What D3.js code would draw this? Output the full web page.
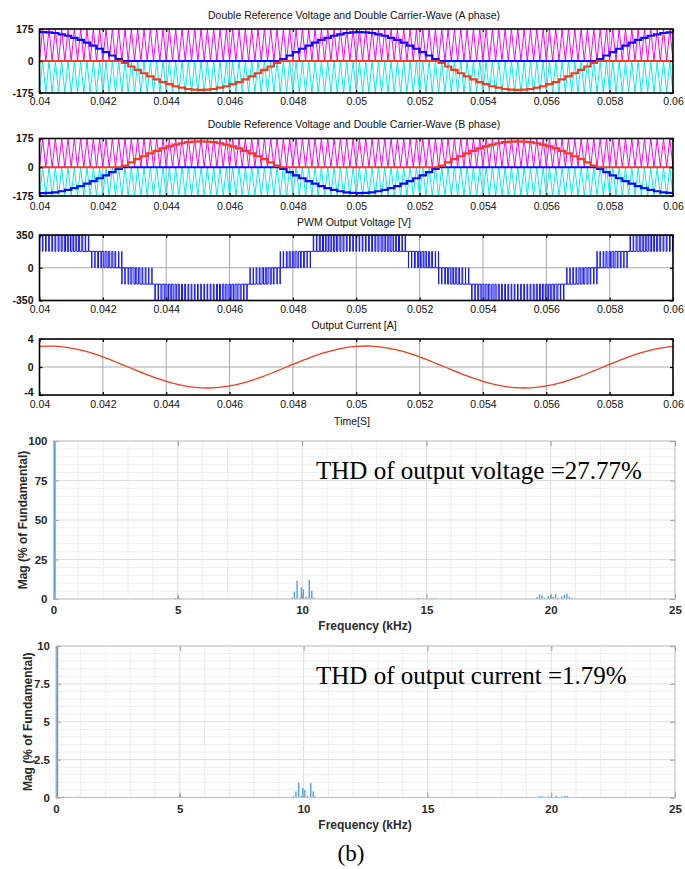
<!DOCTYPE html>
<html>
<head>
<meta charset="utf-8">
<script src="https://cdn.jsdelivr.net/npm/d3@7"></script>
<style>
  body { margin: 0; background: #fff; }
  svg { display: block; }
</style>
</head>
<body>
<svg id="chart" width="685" height="869"></svg>
<script>
// ---------------- data ----------------
const timeTickValues = [0.04, 0.042, 0.044, 0.046, 0.048, 0.05, 0.052, 0.054, 0.056, 0.058, 0.06];
const timeTickLabels = ["0.04", "0.042", "0.044", "0.046", "0.048", "0.05", "0.052", "0.054", "0.056", "0.058", "0.06"];

const sampleStart = 0.04;      // first reference sample [s]
const samplePeriod = 0.0002;   // reference is sampled once per carrier period
const carrierPeriod = 0.0002;  // 5 kHz triangular carriers
const carrierPeak = 175;       // upper carrier 0..175, lower carrier -175..0

// sampled reference voltage, phase A (one value per carrier period)
const refA = [158, 156, 153, 146, 138, 127, 115, 100, 84, 67,
  49, 30, 10, -10, -30, -49, -67, -84, -100, -115,
  -127, -138, -146, -153, -156, -158, -156, -153, -146, -138,
  -127, -115, -100, -84, -67, -49, -30, -10, 10, 30,
  49, 67, 84, 100, 115, 127, 138, 146, 153, 156,
  158, 156, 153, 146, 138, 127, 115, 100, 84, 67,
  49, 30, 10, -10, -30, -49, -67, -84, -100, -115,
  -127, -138, -146, -153, -156, -158, -156, -153, -146, -138,
  -127, -115, -100, -84, -67, -49, -30, -10, 10, 30,
  49, 67, 84, 100, 115, 127, 138, 146, 153, 156, 158];

// sampled reference voltage, phase B
const refB = [-158, -156, -153, -146, -138, -127, -115, -100, -84, -67,
  -49, -30, -10, 10, 30, 49, 67, 84, 100, 115,
  127, 138, 146, 153, 156, 158, 156, 153, 146, 138,
  127, 115, 100, 84, 67, 49, 30, 10, -10, -30,
  -49, -67, -84, -100, -115, -127, -138, -146, -153, -156,
  -158, -156, -153, -146, -138, -127, -115, -100, -84, -67,
  -49, -30, -10, 10, 30, 49, 67, 84, 100, 115,
  127, 138, 146, 153, 156, 158, 156, 153, 146, 138,
  127, 115, 100, 84, 67, 49, 30, 10, -10, -30,
  -49, -67, -84, -100, -115, -127, -138, -146, -153, -156, -158];

// output current [A], every 0.5 ms from 0.04 s
const currentStart = 0.04;
const currentStep = 0.0005;
const currentValues = [2.95, 2.98, 2.71, 2.19, 1.45, 0.56, -0.38, -1.28, -2.05, -2.63,
  -2.95, -2.98, -2.71, -2.19, -1.45, -0.56, 0.38, 1.28, 2.05, 2.63,
  2.95, 2.98, 2.71, 2.19, 1.45, 0.56, -0.38, -1.28, -2.05, -2.63,
  -2.95, -2.98, -2.71, -2.19, -1.45, -0.56, 0.38, 1.28, 2.05, 2.63, 2.95];

// FFT spectra (frequency in kHz, magnitude in % of fundamental)
const freqTicks = [0, 5, 10, 15, 20, 25];
const voltMagTicks = [0, 25, 50, 75, 100];
const currMagTicks = [0, 2.5, 5, 7.5, 10];

const voltHarmFreq = [0.04, 4.9, 5.0, 5.1,
  9.59, 9.69, 9.80, 9.92, 9.97, 10.05, 10.16, 10.29, 10.39, 10.48,
  14.6, 14.7, 15.2, 15.3, 15.4,
  19.45, 19.55, 19.65, 19.75, 19.9, 20.0, 20.1, 20.2, 20.3, 20.45, 20.55, 20.65, 20.75, 20.85,
  24.6];
const voltHarmMag = [100, 0.6, 1.6, 0.6,
  1.0, 4.6, 11.6, 1.0, 7.4, 6.1, 1.5, 12.0, 5.0, 1.0,
  0.4, 0.6, 0.5, 0.6, 0.3,
  1.2, 2.8, 2.2, 0.8, 1.8, 2.6, 1.4, 3.2, 0.8, 1.6, 2.8, 3.4, 1.4, 0.6,
  0.5];

const currHarmFreq = [0.04, 0.3, 0.5, 0.7, 0.9, 1.1, 1.3, 1.5, 1.9, 4.9, 5.0, 5.1,
  9.59, 9.69, 9.80, 9.92, 9.97, 10.05, 10.16, 10.29, 10.39, 10.48,
  19.45, 19.55, 19.65, 19.9, 20.0, 20.2, 20.45, 20.55, 20.65];
const currHarmMag = [100, 0.06, 0.05, 0.04, 0.05, 0.04, 0.03, 0.03, 0.03, 0.05, 0.18, 0.06,
  0.1, 0.4, 0.97, 0.1, 0.62, 0.5, 0.12, 0.95, 0.42, 0.08,
  0.05, 0.1, 0.08, 0.06, 0.09, 0.11, 0.06, 0.1, 0.12];

const thdVoltage = "27.77%";
const thdCurrent = "1.79%";

// ---------------- drawing ----------------
const svg = d3.select("#chart");
const sans = "'Liberation Sans', Arial, Helvetica, sans-serif";
const serif = "'Liberation Serif', 'Times New Roman', serif";
const defs = svg.append("defs");

const xT = d3.scaleLinear().domain([0.04, 0.06]).range([39.5, 673]);

// Triangular carrier vertices (upper carrier 0..peak, lower carrier -peak..0)
const carrierCount = Math.round((0.06 - 0.04) / carrierPeriod);
const carrierUpper = d3.range(carrierCount * 2 + 1).map(j => ({
  t: 0.04 + j * carrierPeriod / 2, v: (j % 2 === 0) ? 0 : carrierPeak }));
const carrierLower = carrierUpper.map(p => ({ t: p.t, v: p.v - carrierPeak }));

const refSamples = arr => arr.map((v, k) => ({ t: sampleStart + k * samplePeriod, v }));

// Conduction spans of one leg inside a carrier period (fractions of the period)
function legState(r) {
  if (r > 0) { const a = r / carrierPeak / 2; return { level: carrierPeak, spans: [[0, a], [1 - a, 1]] }; }
  if (r < 0) { const b = (carrierPeak + r) / carrierPeak / 2; return { level: -carrierPeak, spans: [[b, 1 - b]] }; }
  return { level: 0, spans: [] };
}
const legValue = (s, u) => s.spans.some(([a, b]) => u >= a && u < b) ? s.level : 0;

// Output voltage = leg A - leg B, from comparing each reference with the carriers
const pwmPoints = [];
for (let k = 0; k < carrierCount; k++) {
  const A = legState(refA[k]), B = legState(refB[k]);
  const cuts = Array.from(new Set([0, 1, ...A.spans.flat(), ...B.spans.flat()]))
    .filter(u => u >= 0 && u <= 1).sort((a, b) => a - b);
  for (let i = 0; i < cuts.length - 1; i++) {
    if (cuts[i + 1] - cuts[i] < 1e-9) continue;
    const mid = (cuts[i] + cuts[i + 1]) / 2;
    const v = legValue(A, mid) - legValue(B, mid);
    if (pwmPoints.length && pwmPoints[pwmPoints.length - 1].v === v) continue;
    pwmPoints.push({ t: sampleStart + (k + cuts[i]) * carrierPeriod, v });
  }
}
pwmPoints.push({ t: 0.06, v: pwmPoints[pwmPoints.length - 1].v });

const currentPoints = currentValues.map((v, i) => ({ t: currentStart + i * currentStep, v }));

let clipId = 0;
function addClip(x0, y0, x1, y1) {
  const id = "clip" + (clipId++);
  defs.append("clipPath").attr("id", id).append("rect")
    .attr("x", x0).attr("y", y0).attr("width", x1 - x0).attr("height", y1 - y0);
  return `url(#${id})`;
}

function timePanel(o) {
  const [x0, x1] = xT.range();
  const y = d3.scaleLinear().domain(o.yDomain).range([o.bottom, o.top]);
  const g = svg.append("g");

  g.append("text").attr("x", 354).attr("y", o.titleY).attr("text-anchor", "middle")
    .attr("font-family", sans).attr("font-size", 10.5).attr("fill", "#111").text(o.title);

  // grid
  g.append("g").selectAll("line").data(timeTickValues.slice(1, -1)).join("line")
    .attr("x1", d => xT(d)).attr("x2", d => xT(d)).attr("y1", o.top).attr("y2", o.bottom)
    .attr("stroke", "#a8a8a8").attr("stroke-width", 1);
  g.append("line").attr("x1", x0).attr("x2", x1).attr("y1", y(0)).attr("y2", y(0))
    .attr("stroke", "#a8a8a8").attr("stroke-width", 1);

  const plot = g.append("g").attr("clip-path", addClip(x0, o.top, x1, o.bottom));
  o.draw(plot, y);

  // frame
  g.append("rect").attr("x", x0).attr("y", o.top).attr("width", x1 - x0).attr("height", o.bottom - o.top)
    .attr("fill", "none").attr("stroke", "#000").attr("stroke-width", 1.6);

  const styleAxis = s => {
    s.select(".domain").remove();
    s.selectAll(".tick line").attr("stroke", "#000").attr("stroke-width", 1.2);
    s.selectAll("text").attr("font-family", sans).attr("fill", "#111");
  };
  g.append("g").attr("transform", `translate(0,${o.bottom})`)
    .call(d3.axisBottom(xT).tickValues(timeTickValues).tickFormat((d, i) => timeTickLabels[i])
      .tickSizeInner(-3).tickSizeOuter(0).tickPadding(o.xPad))
    .call(styleAxis).call(s => s.selectAll("text").attr("font-size", 10.5));
  g.append("g").attr("transform", `translate(0,${o.top})`)
    .call(d3.axisTop(xT).tickValues(timeTickValues).tickFormat("").tickSizeInner(-3).tickSizeOuter(0))
    .call(styleAxis);
  g.append("g").attr("transform", `translate(${x0},0)`)
    .call(d3.axisLeft(y).tickValues(o.yTicks).tickFormat(d => String(d)).tickSizeInner(-3).tickSizeOuter(0).tickPadding(6))
    .call(styleAxis)
    .call(s => s.selectAll("text").attr("font-size", 10.5).attr("font-weight", "bold")
      .attr("dy", d => d === o.yTicks[0] ? (o.lowDy || "0.32em") : "0.32em"));
  g.append("g").attr("transform", `translate(${x1},0)`)
    .call(d3.axisRight(y).tickValues(o.yTicks).tickFormat("").tickSizeInner(-3).tickSizeOuter(0))
    .call(styleAxis);
}

const stepLine = y => d3.line().x(d => xT(d.t)).y(d => y(d.v)).curve(d3.curveStepAfter);
const plainLine = y => d3.line().x(d => xT(d.t)).y(d => y(d.v));

const magenta = "#ff00ff", cyan = "#00eef8", blue = "#0a0aff", red = "#f23c1c";

function drawCarriersAndRefs(plot, y, ref, posColor, negColor) {
  plot.append("path").datum(carrierUpper).attr("d", plainLine(y))
    .attr("fill", "none").attr("stroke", magenta).attr("stroke-width", 1);
  plot.append("path").datum(carrierLower).attr("d", plainLine(y))
    .attr("fill", "none").attr("stroke", cyan).attr("stroke-width", 1);
  const pos = refSamples(ref).map(d => ({ t: d.t, v: Math.max(d.v, 0) }));
  const neg = refSamples(ref).map(d => ({ t: d.t, v: Math.min(d.v, 0) }));
  const order = posColor === blue ? [[pos, posColor], [neg, negColor]] : [[neg, negColor], [pos, posColor]];
  order.forEach(([data, color]) => {
    plot.append("path").datum(data).attr("d", stepLine(y))
      .attr("fill", "none").attr("stroke", color).attr("stroke-width", 2.2);
  });
}

timePanel({
  title: "Double Reference Voltage and Double Carrier-Wave (A phase)", titleY: 19,
  top: 29, bottom: 93, yDomain: [-175, 175], yTicks: [-175, 0, 175], xPad: 5,
  draw: (plot, y) => drawCarriersAndRefs(plot, y, refA, blue, red)
});
timePanel({
  title: "Double Reference Voltage and Double Carrier-Wave (B phase)", titleY: 128,
  top: 138.5, bottom: 196, yDomain: [-175, 175], yTicks: [-175, 0, 175], xPad: 7,
  draw: (plot, y) => drawCarriersAndRefs(plot, y, refB, red, blue)
});
timePanel({
  title: "PWM Output Voltage [V]", titleY: 226,
  top: 235, bottom: 300.5, yDomain: [-350, 350], yTicks: [-350, 0, 350], xPad: 5,
  draw: (plot, y) => plot.append("path").datum(pwmPoints).attr("d", stepLine(y))
    .attr("fill", "none").attr("stroke", "#1414ff").attr("stroke-width", 1)
});
timePanel({
  title: "Output Current [A]", titleY: 329,
  top: 339, bottom: 395, yDomain: [-4, 4], yTicks: [-4, 0, 4], xPad: 6, lowDy: "0.05em",
  draw: (plot, y) => plot.append("path").datum(currentPoints)
    .attr("d", d3.line().x(d => xT(d.t)).y(d => y(d.v)).curve(d3.curveCatmullRom))
    .attr("fill", "none").attr("stroke", red).attr("stroke-width", 1.3)
});
svg.append("text").attr("x", 352).attr("y", 425).attr("text-anchor", "middle")
  .attr("font-family", sans).attr("font-size", 10.5).attr("fill", "#111").text("Time[S]");

// ---------------- spectra ----------------
function spectrumPanel(o) {
  const x = d3.scaleLinear().domain([0, 25]).range([o.left, o.right]);
  const y = d3.scaleLinear().domain([0, o.yMax]).range([o.bottom, o.top]);
  const g = svg.append("g");

  // minor and major grid
  g.append("g").selectAll("line").data(d3.range(1, 25).filter(v => v % 5 !== 0)).join("line")
    .attr("x1", d => x(d)).attr("x2", d => x(d)).attr("y1", o.top).attr("y2", o.bottom)
    .attr("stroke", "#efefef").attr("stroke-width", 1);
  g.append("g").selectAll("line").data(d3.range(1, 20).map(i => i * o.yMax / 20).filter((v, i) => (i + 1) % 5 !== 0)).join("line")
    .attr("x1", o.left).attr("x2", o.right).attr("y1", d => y(d)).attr("y2", d => y(d))
    .attr("stroke", "#efefef").attr("stroke-width", 1);
  g.append("g").selectAll("line").data(freqTicks.slice(1, -1)).join("line")
    .attr("x1", d => x(d)).attr("x2", d => x(d)).attr("y1", o.top).attr("y2", o.bottom)
    .attr("stroke", "#dedede").attr("stroke-width", 1);
  g.append("g").selectAll("line").data(o.yTicks.slice(1, -1)).join("line")
    .attr("x1", o.left).attr("x2", o.right).attr("y1", d => y(d)).attr("y2", d => y(d))
    .attr("stroke", "#dedede").attr("stroke-width", 1);

  // harmonic bars
  g.append("g").attr("clip-path", addClip(o.left, o.top, o.right, o.bottom))
    .selectAll("line").data(o.freq.map((f, i) => ({ f, m: o.mag[i] }))).join("line")
    .attr("x1", d => x(d.f)).attr("x2", d => x(d.f)).attr("y1", y(0)).attr("y2", d => y(d.m))
    .attr("stroke", "#4f9fdc").attr("stroke-width", d => d.f < 0.5 && d.m > 50 ? 2.4 : 1.4);

  // frame
  g.append("rect").attr("x", o.left).attr("y", o.top).attr("width", o.right - o.left).attr("height", o.bottom - o.top)
    .attr("fill", "none").attr("stroke", "#c2c2c2").attr("stroke-width", 1.2);

  const styleAxis = s => {
    s.select(".domain").remove();
    s.selectAll(".tick line").attr("stroke", "#a8a8a8").attr("stroke-width", 1.2);
    s.selectAll("text").attr("font-family", sans).attr("font-size", 11.5)
      .attr("font-weight", "bold").attr("fill", "#2a2a2a");
  };
  g.append("g").attr("transform", `translate(0,${o.bottom})`)
    .call(d3.axisBottom(x).tickValues(freqTicks).tickSizeInner(-5).tickSizeOuter(0).tickPadding(7)).call(styleAxis);
  g.append("g").attr("transform", `translate(0,${o.top})`)
    .call(d3.axisTop(x).tickValues(freqTicks).tickFormat("").tickSizeInner(-5).tickSizeOuter(0)).call(styleAxis);
  g.append("g").attr("transform", `translate(${o.left},0)`)
    .call(d3.axisLeft(y).tickValues(o.yTicks).tickFormat(d => String(d)).tickSizeInner(-5).tickSizeOuter(0).tickPadding(6)).call(styleAxis);
  g.append("g").attr("transform", `translate(${o.right},0)`)
    .call(d3.axisRight(y).tickValues(o.yTicks).tickFormat("").tickSizeInner(-5).tickSizeOuter(0)).call(styleAxis);

  g.append("text").attr("x", 365).attr("y", o.bottom + 31).attr("text-anchor", "middle")
    .attr("font-family", sans).attr("font-size", 12).attr("font-weight", "bold").attr("fill", "#2a2a2a")
    .text("Frequency (kHz)");
  g.append("text").attr("transform", `translate(${o.yLabelX},${(o.top + o.bottom) / 2}) rotate(-90)`)
    .attr("text-anchor", "middle").attr("dy", "0.35em")
    .attr("font-family", sans).attr("font-size", 12).attr("font-weight", "bold").attr("fill", "#2a2a2a")
    .text("Mag (% of Fundamental)");
  g.append("text").attr("x", 316).attr("y", o.noteY)
    .attr("font-family", serif).attr("font-size", 25).attr("fill", "#000").text(o.note);
}

spectrumPanel({
  left: 53.5, right: 675, top: 441, bottom: 599, yMax: 100, yTicks: voltMagTicks,
  freq: voltHarmFreq, mag: voltHarmMag, yLabelX: 23, noteY: 479,
  note: "THD of output voltage =" + thdVoltage
});
spectrumPanel({
  left: 56, right: 675, top: 646, bottom: 797.5, yMax: 10, yTicks: currMagTicks,
  freq: currHarmFreq, mag: currHarmMag, yLabelX: 28, noteY: 684,
  note: "THD of output current =" + thdCurrent
});

svg.append("text").attr("x", 351).attr("y", 861).attr("text-anchor", "middle")
  .attr("font-family", serif).attr("font-size", 23).attr("fill", "#000").text("(b)");
</script>
</body>
</html>
